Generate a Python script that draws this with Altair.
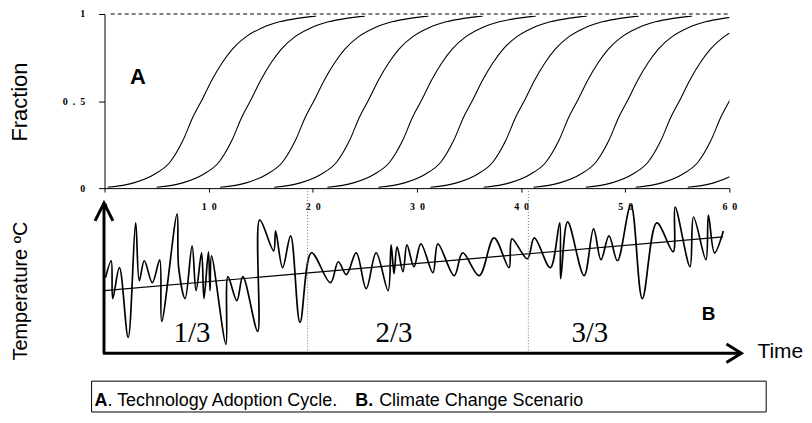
import altair as alt
import pandas as pd

# ---------------- Panel A: technology adoption cycles ----------------
curve_mid = [9.3, 14.0, 20.1, 25.3, 30.4, 35.3, 40.3, 45.4, 50.2, 55.2, 60.0, 65.0]
shape_offset = [-9.0, -6.5, -4.5, -3.0, -1.8, -0.8, 0.0, 1.0, 2.0, 3.0, 4.3, 5.8, 7.5, 9.2, 10.5, 11.0]
shape_frac = [0.005, 0.03, 0.08, 0.15, 0.27, 0.41, 0.50, 0.62, 0.72, 0.80, 0.87, 0.92, 0.955, 0.975, 0.985, 0.987]
saturation = [1.0]
x_ticks = [0, 10, 20, 30, 40, 50, 60]
y_ticks = [0, 0.5, 1]

# ---------------- Panel B: climate change scenario ----------------
temp_x = [0.10, 0.64, 0.79, 1.43, 2.27, 2.99, 3.34, 3.82, 4.59, 5.30,
          5.49, 6.97, 7.12, 7.74, 8.41, 8.79, 9.32, 9.55, 9.98, 10.13,
          10.27, 11.66, 11.85, 12.71, 13.28, 14.71, 14.90, 16.24, 16.43, 17.10,
          17.87, 18.77, 19.87, 21.69, 22.45, 23.22, 24.17, 25.13, 26.08, 27.23,
          27.52, 27.80, 28.09, 28.66, 29.04, 29.71, 30.38, 31.53, 32.01, 33.58,
          34.39, 35.97, 37.40, 38.84, 39.12, 40.60, 41.27, 42.80, 43.71, 43.80,
          44.47, 46.05, 46.96, 47.67, 48.44, 49.25, 50.54, 51.64, 53.03, 54.60,
          54.79, 56.22, 56.56, 57.75, 57.99, 58.57, 59.42]
temp_y = [7.6, 9.3, 5.5, 8.6, 1.6, 13.1, 7.3, 9.3, 7.1, 9.4,
          3.2, 14.0, 8.6, 5.5, 10.8, 6.3, 10.1, 5.5, 10.2, 6.3,
          9.8, 0.9, 7.7, 5.3, 7.7, 2.2, 13.4, 10.3, 12.3, 8.6,
          11.8, 3.1, 10.1, 7.1, 9.2, 7.9, 10.1, 6.5, 10.1, 6.3,
          10.9, 8.0, 10.7, 8.2, 10.9, 8.7, 11.0, 8.1, 11.0, 7.8,
          10.1, 7.8, 11.6, 8.6, 11.5, 9.5, 11.6, 8.6, 13.1, 7.5,
          13.2, 7.8, 12.5, 9.4, 11.8, 9.3, 14.9, 5.5, 13.1, 10.2,
          14.7, 8.7, 13.7, 9.4, 13.9, 10.1, 12.3]
trend_x = [0.0, 59.4]
trend_y = [6.3, 11.7]
third_bounds = [19.5, 40.7]
third_labels = ["1/3", "2/3", "3/3"]
third_label_x = [8.4, 27.8, 46.6]
third_label_y = [1.1, 1.1, 1.1]
axis_top = 15.1
axis_right = 61.15

W = 628
TOP_H = 175
BOT_H = 151
SANS = "Liberation Sans"
SERIF = "Liberation Serif"
spaced = "join(split(datum.label, ''), '\u00a0\u00a0')"

# ---- top chart ----
rows = []
for i, m in enumerate(curve_mid):
    for o, f in zip(shape_offset, shape_frac):
        rows.append({"curve": i, "x": m + o, "f": f})
df_curves = pd.DataFrame(rows)

xA = alt.Scale(domain=[0, 60], nice=False, zero=False)
yA = alt.Scale(domain=[0, 1], nice=False, zero=False)
xA_axis = alt.Axis(values=x_ticks, title=None, grid=False, domainColor="black", domainWidth=1,
                   tickColor="black", tickSize=4, labelFont=SERIF, labelFontWeight="bold",
                   labelFontSize=10, labelColor="black", labelPadding=9, labelFlush=False,
                   labelOverlap=False, format=".1~f", labelExpr=spaced)
yA_axis = alt.Axis(values=y_ticks, title="Fraction", grid=False, domainColor="black", domainWidth=1,
                   tickColor="black", tickSize=6, labelFont=SERIF, labelFontWeight="bold",
                   labelFontSize=10, labelColor="black", labelPadding=14, labelFlush=False,
                   labelOverlap=False, format=".1~f", labelExpr=spaced, titleFont=SANS, titleFontSize=22,
                   titleFontWeight="normal", titleColor="black", titleX=-78, titleY=88,
                   titleBaseline="alphabetic", titleAlign="center")

curves = alt.Chart(df_curves).mark_line(color="black", strokeWidth=1.1, interpolate="monotone", clip=True).encode(
    x=alt.X("x:Q", scale=xA, axis=xA_axis),
    y=alt.Y("f:Q", scale=yA, axis=yA_axis),
    detail="curve:N",
)
dash = alt.Chart(pd.DataFrame({"x": [0.6], "x2": [60.0], "f": saturation})).mark_rule(
    color="black", strokeWidth=1, strokeDash=[4, 3]).encode(
    x=alt.X("x:Q", scale=xA, axis=xA_axis), x2="x2:Q", y=alt.Y("f:Q", scale=yA, axis=yA_axis))
labelA = alt.Chart(pd.DataFrame({"x": [3.2], "f": [0.6], "t": ["A"]})).mark_text(
    font=SANS, fontWeight="bold", fontSize=22, align="center", baseline="alphabetic", color="black").encode(
    x=alt.X("x:Q", scale=xA, axis=xA_axis), y=alt.Y("f:Q", scale=yA, axis=yA_axis), text="t:N")

top = alt.layer(curves, dash, labelA).properties(width=W, height=TOP_H)

# ---- bottom chart ----
xB = alt.Scale(domain=[0, 60], nice=False, zero=False)
yB = alt.Scale(domain=[0, axis_top], nice=False, zero=False)
yB_axis = alt.Axis(title="Temperature ºC", domain=False, ticks=False, labels=False, grid=False,
                   titleFont=SANS, titleFontSize=20, titleFontWeight="normal", titleColor="black",
                   titleX=-78, titleY=88, titleBaseline="alphabetic", titleAlign="center")


def XB(f="x"):
    return alt.X(f + ":Q", scale=xB, axis=None)


def YB(f="y"):
    return alt.Y(f + ":Q", scale=yB, axis=yB_axis)


df_temp = pd.DataFrame({"x": temp_x, "y": temp_y})
temp_line = alt.Chart(df_temp).mark_line(color="black", strokeWidth=1.7, interpolate="catmull-rom").encode(
    x=XB(), y=YB())
trend = alt.Chart(pd.DataFrame({"x": trend_x, "y": trend_y})).mark_line(color="black", strokeWidth=1.1).encode(
    x=XB(), y=YB())
thirds = alt.Chart(pd.DataFrame({"x": third_bounds, "y": [0.0, 0.0], "y2": [16.3, 16.3]})).mark_rule(
    color="#777777", strokeWidth=1, strokeDash=[1, 2]).encode(x=XB(), y=YB(), y2="y2:Q")
third_text = alt.Chart(pd.DataFrame({"x": third_label_x, "y": third_label_y, "t": third_labels})).mark_text(
    font=SERIF, fontSize=29, align="center", baseline="alphabetic", color="black").encode(
    x=XB(), y=YB(), text="t:N")
labelB = alt.Chart(pd.DataFrame({"x": [58.0], "y": [3.3], "t": ["B"]})).mark_text(
    font=SANS, fontWeight="bold", fontSize=19, align="center", baseline="alphabetic", color="black").encode(
    x=XB(), y=YB(), text="t:N")
time_text = alt.Chart(pd.DataFrame({"x": [62.7], "y": [-0.5], "t": ["Time"]})).mark_text(
    font=SANS, fontSize=21, align="left", baseline="alphabetic", color="black").encode(
    x=XB(), y=YB(), text="t:N")
x_arrow = alt.Chart(pd.DataFrame({"x": [-0.15], "x2": [axis_right], "y": [0.0]})).mark_rule(
    color="black", strokeWidth=3).encode(x=XB(), x2="x2:Q", y=YB())
y_arrow = alt.Chart(pd.DataFrame({"x": [-0.05], "y": [0.0], "y2": [axis_top]})).mark_rule(
    color="black", strokeWidth=3).encode(x=XB(), y=YB(), y2="y2:Q")
x_head = alt.Chart(pd.DataFrame({"x": [axis_right], "y": [0.0]})).mark_point(
    shape="M-1,-0.62L0,0L-1,0.62", size=900, filled=False, color="black", strokeWidth=3, opacity=1).encode(
    x=XB(), y=YB())
y_head = alt.Chart(pd.DataFrame({"x": [-0.05], "y": [axis_top]})).mark_point(
    shape="M-0.5,1L0,0L0.5,1", size=1296, filled=False, color="black", strokeWidth=3, opacity=1).encode(
    x=XB(), y=YB())

one = pd.DataFrame({"a": [0]})
cap_box = alt.Chart(one).mark_rect(fillOpacity=0, stroke="black", strokeWidth=1).encode(
    x=alt.value(-13), x2=alt.value(665), y=alt.value(179), y2=alt.value(210))
cap1 = alt.Chart(one).mark_text(text="A", font=SANS, fontWeight="bold", fontSize=18, align="left",
                                baseline="alphabetic", color="black").encode(x=alt.value(-10), y=alt.value(204))
cap2 = alt.Chart(one).mark_text(text=". Technology Adoption Cycle.", font=SANS, fontSize=18, align="left",
                                baseline="alphabetic", color="black").encode(x=alt.value(3), y=alt.value(204))
cap3 = alt.Chart(one).mark_text(text="B.", font=SANS, fontWeight="bold", fontSize=18, align="left",
                                baseline="alphabetic", color="black").encode(x=alt.value(252), y=alt.value(204))
cap4 = alt.Chart(one).mark_text(text="Climate Change Scenario", font=SANS, fontSize=18, align="left",
                                baseline="alphabetic", color="black").encode(x=alt.value(276), y=alt.value(204))

bottom = alt.layer(temp_line, trend, thirds, third_text, labelB, time_text, x_arrow, y_arrow,
                   x_head, y_head, cap_box, cap1, cap2, cap3, cap4).properties(width=W, height=BOT_H)

chart = alt.vconcat(top, bottom, spacing=15, bounds="flush").properties(
    padding={"left": 0, "top": 0, "right": 0, "bottom": 0}
).configure_view(stroke=None)

chart.save("out.html", embed_options={"renderer": "svg", "actions": False})
